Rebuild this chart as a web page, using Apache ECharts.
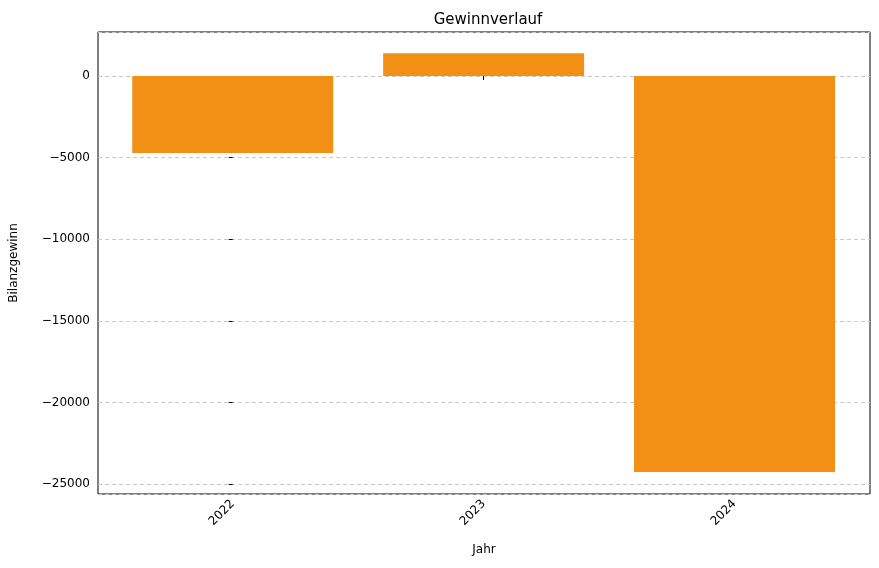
<!DOCTYPE html>
<html lang="de">
<head>
    <meta charset="utf-8" />
    <title>Gewinnverlauf</title>
    <script src="https://cdn.jsdelivr.net/npm/echarts@6/dist/echarts.min.js"></script>
    <style>
        html, body { margin: 0; padding: 0; background: #fff; }
        #main { width: 879px; height: 568px; }
    </style>
</head>
<body>
<div id="main"></div>
<script type="text/javascript">
    // Daten
    var years = ['2022', '2023', '2024'];
    var profits = [-4720, 1400, -24270];

    var chart = echarts.init(document.getElementById('main'));
    var font = 'DejaVu Sans';

    var option = {
        animation: false,
        textStyle: { fontFamily: font },
        title: {
            text: 'Gewinnverlauf',
            left: 483, top: 8, textAlign: 'center',
            textStyle: { fontFamily: font, fontSize: 15, fontWeight: 'normal', color: '#000' }
        },
        grid: {
            left: 96, right: 9, top: 32, bottom: 74,
            show: true, borderColor: '#000', borderWidth: 1
        },
        xAxis: {
            type: 'value',
            min: -0.537, max: 2.54,
            minInterval: 1, maxInterval: 1,
            name: 'Jahr', nameLocation: 'middle', nameGap: 50,
            nameTextStyle: { color: '#000', fontSize: 12 },
            axisLine: { show: false },
            axisTick: { show: true, length: 4, lineStyle: { color: '#000' } },
            splitLine: { show: false },
            axisLabel: {
                rotate: 45, color: '#000', fontSize: 12, margin: 8,
                showMinLabel: false, showMaxLabel: false,
                formatter: function (v) { return years[Math.round(v)] || ''; }
            }
        },
        yAxis: {
            type: 'value',
            min: -25613, max: 2696,
            minInterval: 5000, maxInterval: 5000,
            name: 'Bilanzgewinn', nameLocation: 'middle', nameGap: 78,
            nameTextStyle: { color: '#000', fontSize: 12 },
            axisLine: { show: false },
            axisTick: { show: true, length: 4, lineStyle: { color: '#000' } },
            splitLine: { show: true, lineStyle: { color: '#c8c8c8', type: [4, 3] } },
            axisLabel: {
                color: '#000', fontSize: 12, margin: 8,
                showMinLabel: false, showMaxLabel: false,
                formatter: function (v) { return v < 0 ? '\u2212' + (-v) : String(v); }
            }
        },
        series: [{
            type: 'bar',
            barWidth: 201,
            itemStyle: { color: '#F29016' },
            data: profits.map(function (p, i) { return [i, p]; }),
            z: 3
        }]
    };

    chart.setOption(option);
</script>
</body>
</html>
